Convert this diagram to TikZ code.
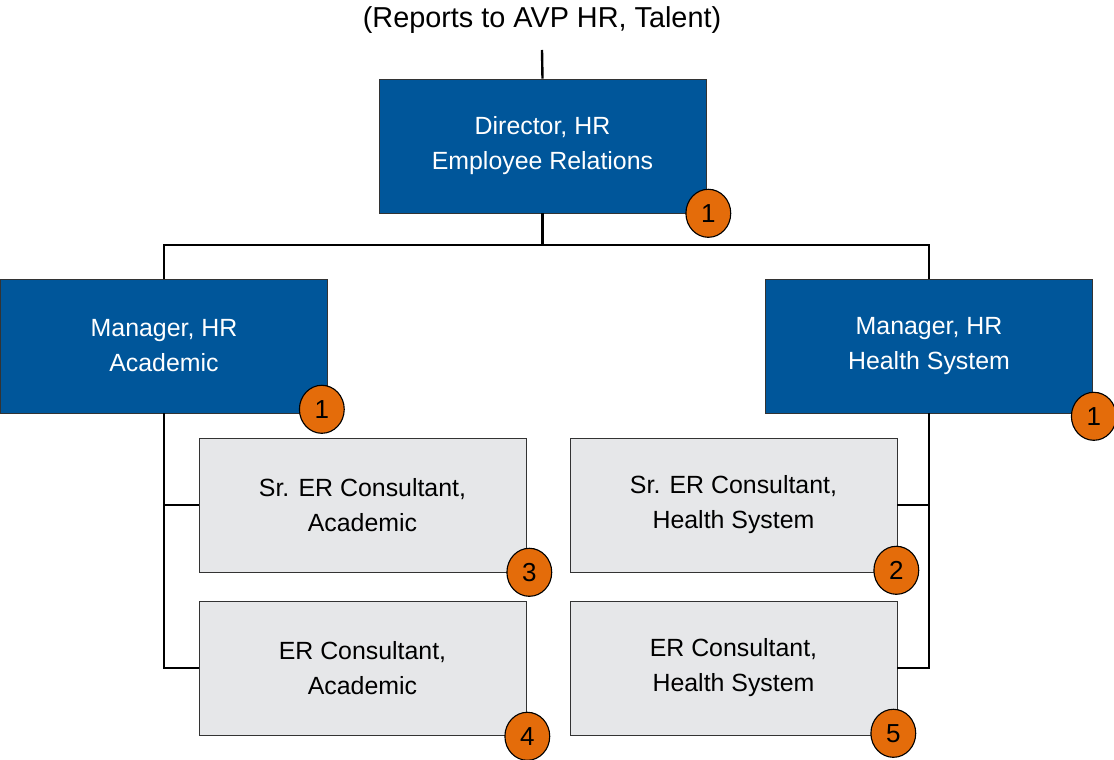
\documentclass[tikz,border=0pt]{standalone}
\usepackage{fontspec}
\setmainfont{Liberation Sans}
\usetikzlibrary{shapes.geometric}
\definecolor{hrblue}{RGB}{0,86,154}
\definecolor{hrgray}{RGB}{230,231,233}
\definecolor{hrorange}{RGB}{228,108,10}
\tikzset{
    %Define style for the blue boxes
    lead/.style={
           rectangle,
           draw=black!80, thin,
           fill=hrblue,
           text=white,
           minimum width=8.175cm,
           minimum height=3.35cm,
           align=center,
           font=\fontsize{17.7}{24.9}\selectfont},
    %Define style for the grey boxes
    staff/.style={
           lead,
           fill=hrgray,
           text=black},
    % Define style for the count badges
    badge/.style={
           ellipse,
           draw=black, line width=0.8pt,
           fill=hrorange,
           inner sep=0pt,
           minimum width=1.12cm,
           minimum height=1.2cm,
           font=\fontsize{18.5}{20}\selectfont},
    % Define connector style
    org/.style={
           line width=1.7pt,
           black}
}

\begin{document}
\begin{tikzpicture}[x=0.025cm, y=-0.025cm]
\useasboundingbox (0,0) rectangle (1114,760);

\node[font=\fontsize{20.5}{24}\selectfont] (title) at (542,20) {(Reports to AVP HR, Talent)};
\coordinate (top) at (542,50);

\node[lead] (dir) at (542.5,146) {Director, HR\\Employee Relations};
\node[lead] (mgrA) at (164,346) {Manager, HR\\Academic};
\node[lead] (mgrH) at (929,346) {Manager, HR\\Health System};

\node[staff] (srA) at (362.5,505) {Sr. ER Consultant,\\Academic};
\node[staff] (erA) at (362.5,668) {ER Consultant,\\Academic};
\node[staff] (srH) at (733.5,505) {Sr. ER Consultant,\\Health System};
\node[staff] (erH) at (733.5,668) {ER Consultant,\\Health System};

% reporting lines
\draw[org] (top) -- (dir.north);
\draw[org] (dir.south) -- ++(0,32) -| (mgrA.north);
\draw[org] (dir.south) -- ++(0,32) -| (mgrH.north);
\draw[org] (mgrA.south) |- (srA.west);
\draw[org] (mgrA.south) |- (erA.west);
\draw[org] (mgrH.south) |- (srH.east);
\draw[org] (mgrH.south) |- (erH.east);

% head counts
\node[badge] (bdir) at ([shift={(2,0)}]dir.south east) {1};
\node[badge] (bmgrA) at ([shift={(-6,-4)}]mgrA.south east) {1};
\node[badge] (bmgrH) at ([shift={(1,3)}]mgrH.south east) {1};
\node[badge] (bsrA) at ([shift={(3,0)}]srA.south east) {3};
\node[badge] (berA) at ([shift={(1,1)}]erA.south east) {4};
\node[badge] (bsrH) at ([shift={(-1,-2)}]srH.south east) {2};
\node[badge] (berH) at ([shift={(-4,-2)}]erH.south east) {5};
\end{tikzpicture}
\end{document}
